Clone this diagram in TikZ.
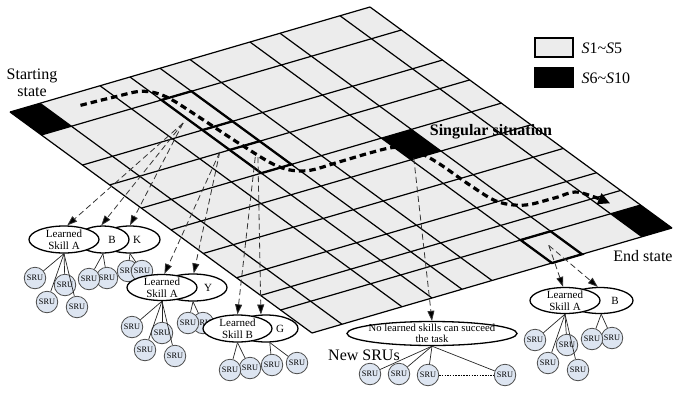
\documentclass[tikz,border=0pt]{standalone}
\usepackage{fontspec}
\setmainfont{Liberation Serif}
\usetikzlibrary{arrows.meta,shapes.geometric}
\definecolor{cellgray}{gray}{0.925}
\definecolor{srufill}{RGB}{221,229,241}
\definecolor{sruedge}{gray}{0.3}
\begin{document}
\begin{tikzpicture}[x=1pt,y=-1pt,
  gridline/.style={line width=1.2pt},
  boldcell/.style={line width=2.3pt, line join=miter},
  route/.style={line width=3.2pt, dash pattern=on 6.5pt off 4pt, -{Triangle[length=12pt,width=11pt]}},
  pointer/.style={line width=0.8pt, black!80, dash pattern=on 6pt off 3.5pt, -{Triangle[length=10pt,width=7pt,fill=black]}},
  skill/.style={ellipse, draw, fill=white, line width=1.3pt, inner sep=0pt, minimum height=27pt},
  skilltext/.style={font=\fontsize{11}{12.5}\selectfont, align=center},
  sru/.style={circle, draw=sruedge, fill=srufill, line width=0.8pt, minimum size=21.5pt, inner sep=0pt, font=\fontsize{8.3}{9}\selectfont},
  link/.style={line width=0.7pt, black!85},
  caption/.style={font=\fontsize{16}{17.5}\selectfont, align=center},
  legbox/.style={draw, line width=1.2pt, minimum width=38pt, minimum height=19pt, inner sep=0pt}
]
\useasboundingbox (0,0) rectangle (673,392);

% ---------- the state grid (u along the top edge, v along the left edge)
\begin{scope}[shift={(10,112)}, x={(360pt,105pt)}, y={(302pt,-221pt)}]
  \fill[cellgray] (0,0) -- (1,0) -- (1,1) -- (0,1) -- cycle;
  % special states
  \foreach \ua/\ub/\va/\vb in {0/1/0/0.104, 11/12/0.896/1, 8/9/0.435/0.533}
    \fill[black] (\ua/12,\va) -- (\ub/12,\va) -- (\ub/12,\vb) -- (\ua/12,\vb) -- cycle;
  % grid lines
  \foreach \u in {0,1,3,4,5,6,8,9,11,12}
    \draw[gridline] (\u/12,0) -- (\u/12,1);
  \foreach \v in {0,0.104,0.24,0.33,0.435,0.533,0.64,0.75,0.83,0.896,1}
    \draw[gridline] (0,\v) -- (1,\v);
  % cells where learned skills are applied
  \draw[boldcell] (4/12,0.104) -- (5/12,0.104) -- (5/12,0.435) -- (4/12,0.435) -- cycle;
  \draw[boldcell] (4/12,0.24) -- (5/12,0.24);
  \draw[boldcell] (4/12,0.33) -- (5/12,0.33);
  \draw[boldcell] (8/12,0.896) -- (9/12,0.896) -- (9/12,1) -- (8/12,1) -- cycle;
  % route from the starting state to the end state
  \draw[route] plot[smooth, tension=0.55] coordinates {
    (0.158,0.045) (0.25,0.05) (0.32,0.058) (0.352,0.1) (0.362,0.2) (0.37,0.32)
    (0.385,0.43) (0.43,0.47) (0.52,0.472) (0.61,0.472) (0.67,0.478) (0.70,0.51)
    (0.712,0.57) (0.715,0.67) (0.725,0.75) (0.77,0.787) (0.85,0.792) (0.91,0.795)
    (0.944,0.862)};
  % origins of the skill pointers
  \coordinate (p1) at (0.314,0.199);
  \coordinate (p2) at (0.308,0.3275);
  \coordinate (p3) at (0.365,0.377);
  \coordinate (p3b) at (0.37,0.38);
  \coordinate (p4) at (0.677,0.53);
  \coordinate (p5) at (0.708,0.94);
\end{scope}

% ---------- legend and captions
\node[legbox, fill=cellgray] (lg1) at (554,47.5) {};
\node[legbox, fill=black] (lg2) at (554,77.5) {};
\node[caption, anchor=west] (lgt1) at (578,48) {\textit{S}1\textasciitilde\textit{S}5};
\node[caption, anchor=west] (lgt2) at (578,78) {\textit{S}6\textasciitilde\textit{S}10};
\node[caption] (start) at (32,83) {Starting\\state};
\node[caption, font=\fontsize{16}{17.5}\selectfont\bfseries] (sing) at (491,132) {Singular situation};
\node[caption] (endst) at (643,256) {End state};
\node[caption] (newsru) at (364,355) {New SRUs};

% ---------- cluster 1: Learned Skill A, B, K
\node[sru] (c1s1) at (35,278) {SRU};
\node[sru] (c1s2) at (65,285) {SRU};
\node[sru] (c1s3) at (47,302) {SRU};
\node[sru] (c1s4) at (77,307) {SRU};
\node[sru] (c1s6) at (107,278) {SRU};
\node[sru] (c1s5) at (89,279) {SRU};
\node[sru] (c1s7) at (128,271) {SRU};
\node[sru] (c1s8) at (142,271) {SRU};
\node[skill, minimum width=60pt, label={[skilltext, xshift=7pt]center:K}] (k1) at (130,239.5) {};
\node[skill, minimum width=52pt, label={[skilltext, xshift=9pt]center:B}] (b1) at (103,239.5) {};
\node[skill, minimum width=70pt, label={[skilltext]center:Learned\\Skill A}] (a1) at (64,239.5) {};
\foreach \s in {c1s1,c1s2,c1s3,c1s4} \draw[link] (a1.south) -- (\s);
\foreach \s in {c1s5,c1s6} \draw[link] (b1.south) -- (\s);
\foreach \s in {c1s7,c1s8} \draw[link] (k1.south) -- (\s);

% ---------- cluster 2: Learned Skill A, Y
\node[sru] (c2s1) at (132,327) {SRU};
\node[sru] (c2s2) at (162,333) {SRU};
\node[sru] (c2s3) at (145,350) {SRU};
\node[sru] (c2s4) at (175,356) {SRU};
\node[sru] (c2s6) at (203,323) {SRU};
\node[sru] (c2s5) at (188,323) {SRU};
\node[skill, minimum width=68pt, label={[skilltext, xshift=15pt]center:Y}] (y2) at (193,287.5) {};
\node[skill, minimum width=70pt, minimum height=26pt, label={[skilltext]center:Learned\\Skill A}] (a2) at (162,287.5) {};
\foreach \s in {c2s1,c2s2,c2s3,c2s4} \draw[link] (a2.south) -- (\s);
\foreach \s in {c2s5,c2s6} \draw[link] (y2.south) -- (\s);

% ---------- cluster 3: Learned Skill B, G
\node[sru] (c3s2) at (250,368) {SRU};
\node[sru] (c3s1) at (230,370) {SRU};
\node[sru] (c3s3) at (272,365) {SRU};
\node[sru] (c3s4) at (297,363) {SRU};
\node[skill, minimum width=64pt, label={[skilltext, xshift=14pt]center:G}] (g3) at (266,328.5) {};
\node[skill, minimum width=69pt, label={[skilltext]center:Learned\\Skill B}] (b3) at (237.5,328.5) {};
\foreach \s in {c3s1,c3s2} \draw[link] (b3.south) -- (\s);
\foreach \s in {c3s3,c3s4} \draw[link] (g3.-75) -- (\s);

% ---------- cluster 4: no skill fits, new SRUs
\node[sru] (n1) at (370,374) {SRU};
\node[sru] (n2) at (399,374) {SRU};
\node[sru] (n3) at (428,375) {SRU};
\node[sru] (n4) at (505,375) {SRU};
\node[skill, minimum width=170pt, minimum height=24pt,
  label={[font=\fontsize{10.7}{11.5}\selectfont, align=center]center:No learned skills can succeed\\the task}] (nb) at (432,333.5) {};
\foreach \s in {n1,n2,n3,n4} \draw[link] (nb.south) -- (\s);
\draw[line width=0.6pt, dash pattern=on 1.5pt off 1.2pt] (n3) -- (n4);

% ---------- cluster 5: Learned Skill A, B near the end state
\node[sru] (c5s1) at (535,340) {SRU};
\node[sru] (c5s2) at (567,345) {SRU};
\node[sru] (c5s3) at (548,363) {SRU};
\node[sru] (c5s4) at (578,370) {SRU};
\node[sru] (c5s6) at (612,338) {SRU};
\node[sru] (c5s5) at (592,339) {SRU};
\node[skill, minimum width=66pt, minimum height=26pt, label={[skilltext, xshift=15pt]center:B}] (b5) at (600,300.5) {};
\node[skill, minimum width=70pt, minimum height=26pt, label={[skilltext]center:Learned\\Skill A}] (a5) at (565,300.5) {};
\foreach \s in {c5s1,c5s2,c5s3,c5s4} \draw[link] (a5.south) -- (\s);
\foreach \s in {c5s5,c5s6} \draw[link] (b5.-85) -- (\s);

% ---------- pointers from grid cells to the skills
\draw[pointer] (p1) -- (a1.77);
\draw[pointer] (p1) -- (b1.97);
\draw[pointer] (p1) -- (k1.north);
\draw[pointer] (p2) -- (a2.80);
\draw[pointer] (p2) -- (y2.87);
\draw[pointer] (p3) -- (b3.north);
\draw[pointer] (p3b) -- (g3.110);
\draw[pointer] (p4) -- (nb.north);
\draw[pointer] (p5) -- (a5.98);
\draw[pointer] (p5) -- (b5.99);
\end{tikzpicture}
\end{document}
